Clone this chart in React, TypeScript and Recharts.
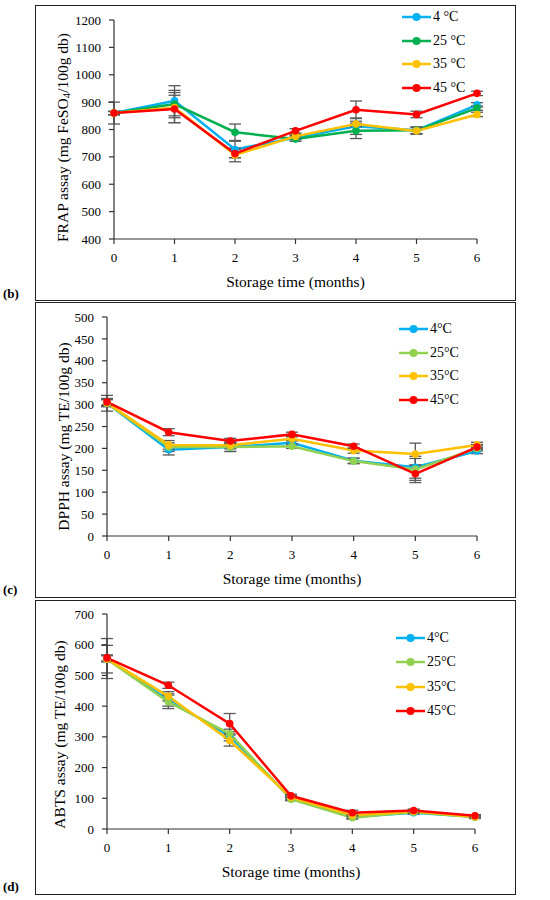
import { ErrorBar, Label, Legend, Line, LineChart, XAxis, YAxis } from "recharts"

const months = [0, 1, 2, 3, 4, 5, 6]
const monthTicks = [0, 1, 2, 3, 4, 5, 6]

// (b) FRAP, mg FeSO4/100g db
const frapTicks = [400, 500, 600, 700, 800, 900, 1000, 1100, 1200]
const frap4 = [860, 905, 727, 770, 812, 797, 890]
const frap25 = [860, 893, 790, 765, 795, 797, 878]
const frap35 = [860, 880, 707, 775, 820, 795, 855]
const frap45 = [860, 875, 712, 795, 872, 855, 932]
const frapErr4 = [40, 55, 30, 8, 30, 12, 8]
const frapErr25 = [6, 50, 30, 8, 28, 12, 8]
const frapErr35 = [6, 55, 25, 8, 10, 12, 8]
const frapErr45 = [6, 50, 15, 8, 32, 12, 8]

// (c) DPPH, mg TE/100g db
const dpphTicks = [0, 50, 100, 150, 200, 250, 300, 350, 400, 450, 500]
const dpph4 = [303, 197, 203, 213, 172, 157, 194]
const dpph25 = [303, 203, 203, 205, 171, 152, 200]
const dpph35 = [304, 208, 207, 222, 195, 187, 208]
const dpph45 = [306, 237, 217, 232, 205, 142, 203]
const dpphErr4 = [18, 12, 10, 5, 6, 25, 6]
const dpphErr25 = [8, 10, 10, 5, 6, 25, 6]
const dpphErr35 = [8, 10, 8, 5, 6, 25, 6]
const dpphErr45 = [8, 8, 6, 5, 5, 20, 6]

// (d) ABTS, mg TE/100g db
const abtsTicks = [0, 100, 200, 300, 400, 500, 600, 700]
const abts4 = [555, 420, 302, 100, 40, 53, 40]
const abts25 = [553, 414, 310, 97, 37, 55, 38]
const abts35 = [554, 432, 288, 103, 45, 57, 40]
const abts45 = [557, 468, 343, 108, 53, 60, 43]
const abtsErr4 = [65, 20, 15, 5, 5, 5, 4]
const abtsErr25 = [45, 22, 15, 5, 5, 5, 4]
const abtsErr35 = [10, 15, 18, 5, 5, 5, 4]
const abtsErr45 = [10, 10, 33, 5, 8, 5, 4]

const labelsSpaced = ["4 °C", "25 °C", "35 °C", "45 °C"]
const labelsTight = ["4°C", "25°C", "35°C", "45°C"]

const blue = "#00B0F0"
const darkGreen = "#00B050"
const lightGreen = "#92D050"
const yellow = "#FFC000"
const red = "#FF0000"

const font = "'Liberation Serif', 'Times New Roman', serif"
const axisColor = "#333333"
const errColor = "#595959"

const buildRows = (series: number[][], errors: number[][]) =>
  months.map((m, i) => ({
    month: m,
    v0: series[0][i],
    v1: series[1][i],
    v2: series[2][i],
    v3: series[3][i],
    e0: errors[0][i],
    e1: errors[1][i],
    e2: errors[2][i],
    e3: errors[3][i],
  }))

const yTitle = (main: string, sub: string, tail: string, dx: number, dy: number) => (props: any) => {
  const vb = props.viewBox
  const x = vb.x + dx
  const y = vb.y + vb.height / 2 + dy
  return (
    <text
      x={x}
      y={y}
      transform={`rotate(-90 ${x} ${y})`}
      textAnchor="middle"
      dominantBaseline="central"
      fontFamily={font}
      fontSize={15.5}
      fill="#000"
    >
      {main}
      {sub ? (
        <tspan dy={4} fontSize={11}>
          {sub}
        </tspan>
      ) : null}
      <tspan dy={sub ? -4 : 0}>{tail}</tspan>
    </text>
  )
}

// keep the legend in series order (Recharts sorts it by name otherwise)
const legendContent = (rowH: number, names: string[]) => (props: any) => {
  const items = [...(props.payload || [])].sort(
    (a: any, b: any) => names.indexOf(a.value) - names.indexOf(b.value)
  )
  return (
    <div style={{ fontFamily: font, fontSize: 14, color: "#000" }}>
      {items.map((p: any) => (
        <div key={p.value} style={{ display: "flex", alignItems: "center", height: rowH }}>
          <svg width={29} height={10}>
            <line x1={0} y1={5} x2={29} y2={5} stroke={p.color} strokeWidth={2.5} />
            <circle cx={14.5} cy={5} r={4} fill={p.color} />
          </svg>
          <span style={{ marginLeft: 2, whiteSpace: "nowrap" }}>{p.value}</span>
        </div>
      ))}
    </div>
  )
}

type PanelProps = {
  top: number
  height: number
  plotLeft: number
  plotRight: number
  plotTop: number
  plotBottom: number
  domain: [number, number]
  ticks: number[]
  series: number[][]
  errors: number[][]
  colors: string[]
  names: string[]
  title: [string, string, string]
  titleDx: number
  titleDy: number
  legendLeft: number
  legendTop: number
  legendRow: number
  tag: string
  tagTop: number
}

function Panel(p: PanelProps) {
  const rows = buildRows(p.series, p.errors)
  const xAxisH = 50
  const yAxisW = 60
  return (
    <>
      <div
        style={{
          position: "absolute",
          left: 35,
          top: p.top,
          width: 481,
          height: p.height,
          border: "1px solid #222",
          boxSizing: "border-box",
        }}
      />
      <div
        style={{
          position: "absolute",
          left: 3,
          top: p.tagTop,
          fontFamily: font,
          fontWeight: "bold",
          fontSize: 13,
          color: "#000",
        }}
      >
        {p.tag}
      </div>
      <div style={{ position: "absolute", left: 0, top: p.top }}>
        <LineChart
          width={550}
          height={p.height}
          data={rows}
          margin={{
            top: p.plotTop - p.top,
            right: 550 - p.plotRight,
            left: p.plotLeft - yAxisW,
            bottom: p.height - (p.plotBottom - p.top) - xAxisH,
          }}
        >
          <XAxis
            dataKey="month"
            type="number"
            domain={[0, 6]}
            ticks={monthTicks}
            height={xAxisH}
            axisLine={{ stroke: axisColor, strokeWidth: 1.2 }}
            tickLine={{ stroke: axisColor, strokeWidth: 1.2 }}
            tickSize={5}
            tickMargin={9}
            tick={{ fill: "#000", fontFamily: font, fontSize: 13 }}
          >
            <Label
              value="Storage time (months)"
              position="insideBottom"
              offset={2}
              style={{ fill: "#000", fontFamily: font, fontSize: 15.5 }}
            />
          </XAxis>
          <YAxis
            type="number"
            domain={p.domain}
            ticks={p.ticks}
            width={yAxisW}
            interval={0}
            axisLine={{ stroke: axisColor, strokeWidth: 1.2 }}
            tickLine={{ stroke: axisColor, strokeWidth: 1.2 }}
            tickSize={5}
            tickMargin={8}
            tick={{ fill: "#000", fontFamily: font, fontSize: 13 }}
          >
            <Label content={yTitle(p.title[0], p.title[1], p.title[2], p.titleDx, p.titleDy)} />
          </YAxis>
          <Legend
            layout="vertical"
            align="center"
            verticalAlign="middle"
            content={legendContent(p.legendRow, p.names)}
            wrapperStyle={{ left: p.legendLeft, top: p.legendTop, width: "auto", height: "auto" }}
          />
          {p.colors.map((c, i) => (
            <Line
              key={p.names[i]}
              name={p.names[i]}
              dataKey={`v${i}`}
              stroke={c}
              strokeWidth={2.5}
              dot={{ r: 3.8, fill: c, stroke: c, strokeWidth: 0 }}
              activeDot={false}
              isAnimationActive={false}
            >
              <ErrorBar dataKey={`e${i}`} width={6} stroke={errColor} strokeWidth={1.3} direction="y" />
            </Line>
          ))}
        </LineChart>
      </div>
    </>
  )
}

export default function App() {
  return (
    <div style={{ position: "absolute", left: 0, top: 0, width: 550, height: 900, background: "#fff" }}>
      <Panel
        top={5}
        height={296}
        plotLeft={114}
        plotRight={477}
        plotTop={20}
        plotBottom={239}
        domain={[400, 1200]}
        ticks={frapTicks}
        series={[frap4, frap25, frap35, frap45]}
        errors={[frapErr4, frapErr25, frapErr35, frapErr45]}
        colors={[blue, darkGreen, yellow, red]}
        names={labelsSpaced}
        title={["FRAP assay (mg FeSO", "4", "/100g db)"]}
        titleDx={8}
        titleDy={8}
        legendLeft={402}
        legendTop={0}
        legendRow={23.7}
        tag="(b)"
        tagTop={286}
      />
      <Panel
        top={302}
        height={296}
        plotLeft={107}
        plotRight={477}
        plotTop={317}
        plotBottom={536}
        domain={[0, 500]}
        ticks={dpphTicks}
        series={[dpph4, dpph25, dpph35, dpph45]}
        errors={[dpphErr4, dpphErr25, dpphErr35, dpphErr45]}
        colors={[blue, lightGreen, yellow, red]}
        names={labelsTight}
        title={["DPPH assay (mg TE/100g db)", "", ""]}
        titleDx={16}
        titleDy={10}
        legendLeft={399}
        legendTop={15}
        legendRow={23.7}
        tag="(c)"
        tagTop={582}
      />
      <Panel
        top={600}
        height={295}
        plotLeft={107}
        plotRight={475}
        plotTop={614}
        plotBottom={829}
        domain={[0, 700]}
        ticks={abtsTicks}
        series={[abts4, abts25, abts35, abts45]}
        errors={[abtsErr4, abtsErr25, abtsErr35, abtsErr45]}
        colors={[blue, lightGreen, yellow, red]}
        names={labelsTight}
        title={["ABTS assay (mg TE/100g db)", "", ""]}
        titleDx={12}
        titleDy={13}
        legendLeft={396}
        legendTop={26}
        legendRow={24.3}
        tag="(d)"
        tagTop={879}
      />
    </div>
  )
}
